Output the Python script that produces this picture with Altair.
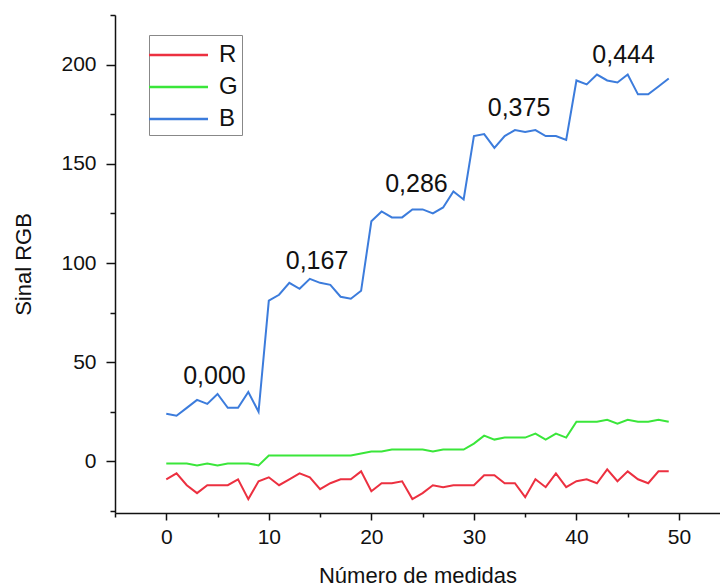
import altair as alt
import pandas as pd

idx = list(range(50))
R = [-9, -6, -12, -16, -12, -12, -12, -9, -19, -10,
     -8, -12, -9, -6, -8, -14, -11, -9, -9, -5,
     -15, -11, -11, -10, -19, -16, -12, -13, -12, -12,
     -12, -7, -7, -11, -11, -18, -9, -13, -6, -13,
     -10, -9, -11, -4, -10, -5, -9, -11, -5, -5]
G = [-1, -1, -1, -2, -1, -2, -1, -1, -1, -2,
     3, 3, 3, 3, 3, 3, 3, 3, 3, 4,
     5, 5, 6, 6, 6, 6, 5, 6, 6, 6,
     9, 13, 11, 12, 12, 12, 14, 11, 14, 12,
     20, 20, 20, 21, 19, 21, 20, 20, 21, 20]
B = [24, 23, 27, 31, 29, 34, 27, 27, 35, 25,
     81, 84, 90, 87, 92, 90, 89, 83, 82, 86,
     121, 126, 123, 123, 127, 127, 125, 128, 136, 132,
     164, 165, 158, 164, 167, 166, 167, 164, 164, 162,
     192, 190, 195, 192, 191, 195, 185, 185, 189, 193]

series_names = ["R", "G", "B"]
series_colors = ["#ec3040", "#3ae63a", "#3c7cdc"]

ann_text = ["0,000", "0,167", "0,286", "0,375", "0,444"]
ann_x = [4.7, 14.7, 24.4, 34.4, 44.6]
ann_y = [43, 101, 140, 178, 205]

x_ticks = list(range(-5, 55, 5))
y_ticks = list(range(-25, 226, 25))

rows = []
for name, vals in zip(series_names, [R, G, B]):
    for i, v in zip(idx, vals):
        rows.append({"i": i, "v": v, "s": name})
df = pd.DataFrame(rows)
ann = pd.DataFrame({"t": ann_text, "x": ann_x, "y": ann_y})

FONT = "Liberation Sans"

xscale = alt.Scale(domain=[-5, 54], nice=False, zero=False)
yscale = alt.Scale(domain=[-26, 225], nice=False, zero=False)

xaxis = alt.Axis(
    values=x_ticks,
    labelExpr="datum.value % 10 === 0 ? datum.label : ''",
    tickSize=alt.condition("datum.value % 10 === 0", alt.value(7), alt.value(4)),
    grid=False, title="Número de medidas",
    labelFontSize=21, titleFontSize=22, labelPadding=6, titlePadding=18,
    labelFont=FONT, titleFont=FONT, labelColor="#111", titleColor="#111",
    titleFontWeight="normal", domainColor="#111", tickColor="#111",
    domainWidth=1.5, tickWidth=1.5,
)
yaxis = alt.Axis(
    values=y_ticks,
    labelExpr="datum.value % 50 === 0 ? datum.label : ''",
    tickSize=alt.condition("datum.value % 50 === 0", alt.value(9), alt.value(5)),
    grid=False, title="Sinal RGB",
    labelFontSize=21, titleFontSize=22, labelPadding=10, titlePadding=25,
    labelFont=FONT, titleFont=FONT, labelColor="#111", titleColor="#111",
    titleFontWeight="normal", domainColor="#111", tickColor="#111",
    domainWidth=1.5, tickWidth=1.5,
)

lines = alt.Chart(df).mark_line(strokeWidth=2).encode(
    x=alt.X("i:Q", scale=xscale, axis=xaxis),
    y=alt.Y("v:Q", scale=yscale, axis=yaxis),
    color=alt.Color(
        "s:N",
        scale=alt.Scale(domain=series_names, range=series_colors),
        sort=series_names,
        legend=alt.Legend(
            title=None, orient="none", legendX=34, legendY=20,
            symbolType="M-1.38,0H2.69", symbolSize=841, symbolStrokeWidth=2.5,
            labelFontSize=24, labelFont=FONT, labelColor="#111",
            strokeColor="#888", fillColor="white", padding=4,
            rowPadding=4, labelOffset=34,
        ),
    ),
)

texts = alt.Chart(ann).mark_text(fontSize=25, font=FONT, color="#111").encode(
    x=alt.X("x:Q", scale=xscale),
    y=alt.Y("y:Q", scale=yscale),
    text="t:N",
)

chart = alt.layer(lines, texts).properties(
    width=605, height=498,
    autosize=alt.AutoSizeParams(type="none"),
    padding={"left": 115, "top": 15, "right": 0, "bottom": 75},
    background="white",
).configure_view(stroke=None)

chart.save("out.html", embed_options={"renderer": "svg", "actions": False})
